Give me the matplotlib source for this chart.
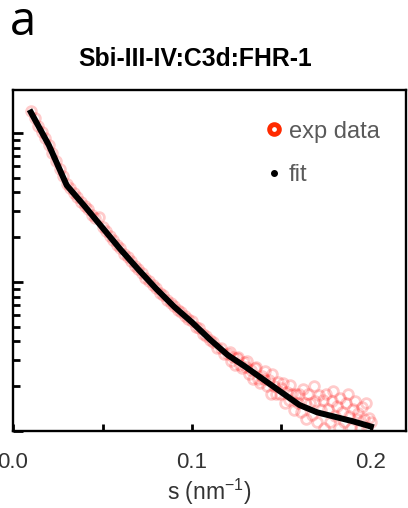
import matplotlib
matplotlib.use("Agg")
import matplotlib.pyplot as plt
import numpy as np
from matplotlib.lines import Line2D
from matplotlib.ticker import FixedLocator, NullFormatter, LogLocator

plt.rcParams["font.family"] = ["Liberation Sans", "DejaVu Sans"]
plt.rcParams["mathtext.fontset"] = "custom"
plt.rcParams["mathtext.rm"] = "Liberation Sans"
plt.rcParams["mathtext.it"] = "Liberation Sans:italic"

# experimental curve, log10 of normalised intensity
s_exp = [
    0.010, 0.012, 0.014, 0.016, 0.018, 0.020, 0.022, 0.024, 0.026, 0.028,
    0.030, 0.032, 0.034, 0.036, 0.038, 0.040, 0.042, 0.044, 0.046, 0.048,
    0.050, 0.052, 0.054, 0.056, 0.058, 0.060, 0.062, 0.064, 0.066, 0.068,
    0.070, 0.072, 0.074, 0.076, 0.078, 0.080, 0.082, 0.084, 0.086, 0.088,
    0.090, 0.092, 0.094, 0.096, 0.098, 0.100, 0.102, 0.104, 0.106, 0.108,
    0.110, 0.112, 0.114, 0.116, 0.118, 0.120,
    0.121, 0.122, 0.123, 0.124, 0.125, 0.126, 0.127, 0.128, 0.129, 0.130,
    0.131, 0.132, 0.133, 0.134, 0.135, 0.136, 0.137, 0.138, 0.139, 0.140,
    0.141, 0.142, 0.143, 0.144, 0.145, 0.146, 0.147, 0.148, 0.149, 0.150,
    0.151, 0.152, 0.153, 0.154, 0.155, 0.156, 0.157, 0.158, 0.159, 0.160,
    0.161, 0.162, 0.163, 0.164, 0.165, 0.166, 0.167, 0.168, 0.169, 0.170,
    0.171, 0.172, 0.173, 0.174, 0.175, 0.176, 0.177, 0.178, 0.179, 0.180,
    0.181, 0.182, 0.183, 0.184, 0.185, 0.186, 0.187, 0.188, 0.189, 0.190,
    0.191, 0.192, 0.193, 0.194, 0.195, 0.196, 0.197, 0.198, 0.199, 0.200,
]
logI_exp = [
    0.15, 0.10, 0.05, 0.01, -0.03, -0.08, -0.13, -0.19, -0.24, -0.29,
    -0.34, -0.37, -0.40, -0.43, -0.46, -0.49, -0.51, -0.55, -0.57, -0.56,
    -0.63, -0.66, -0.69, -0.72, -0.75, -0.77, -0.81, -0.83, -0.86, -0.89,
    -0.91, -0.94, -0.97, -0.99, -1.02, -1.04, -1.07, -1.09, -1.12, -1.14,
    -1.16, -1.19, -1.20, -1.23, -1.25, -1.26, -1.30, -1.31, -1.35, -1.36,
    -1.39, -1.40, -1.44, -1.44, -1.48, -1.48,
    -1.47, -1.53, -1.50, -1.56, -1.51, -1.50, -1.56, -1.58, -1.54, -1.57,
    -1.53, -1.62, -1.59, -1.65, -1.58, -1.57, -1.65, -1.68, -1.63, -1.65,
    -1.60, -1.70, -1.66, -1.75, -1.62, -1.70, -1.75, -1.67, -1.75, -1.71,
    -1.68, -1.81, -1.74, -1.79, -1.69, -1.75, -1.86, -1.75, -1.81, -1.75,
    -1.87, -1.72, -1.81, -1.92, -1.75, -1.81, -1.89, -1.70, -1.80, -1.94,
    -1.76, -1.86, -1.79, -1.98, -1.75, -1.85, -1.94, -1.80, -1.73, -1.90,
    -1.83, -1.98, -1.78, -1.87, -1.94, -1.81, -1.75, -1.90, -1.98, -1.85,
    -1.80, -1.92, -1.88, -1.99, -1.84, -1.92, -1.81, -1.98, -1.91, -1.94,
]

# fitted curve
s_fit = [0.010, 0.020, 0.030, 0.040, 0.050, 0.060, 0.070, 0.080, 0.090, 0.100,
         0.110, 0.120, 0.130, 0.140, 0.150, 0.160, 0.170, 0.180, 0.190, 0.200]
logI_fit = [0.14, -0.08, -0.35, -0.49, -0.635, -0.78, -0.915, -1.045, -1.165, -1.27,
            -1.385, -1.49, -1.57, -1.655, -1.74, -1.825, -1.875, -1.905, -1.935, -1.97]

x_ticks = [0.0, 0.1, 0.2]
x_ticklabels = ["0.0", "0.1", "0.2"]
x_minor = [0.05, 0.15]

title = "Sbi-III-IV:C3d:FHR-1"
red = "#ff2a00"

fig = plt.figure(figsize=(4.08, 5.08), dpi=100)
ax = fig.add_axes([0.032, 0.1516, 0.963, 0.6712])

I_exp = 10 ** np.array(logI_exp)
I_fit = 10 ** np.array(logI_fit)

ax.plot(s_exp, I_exp, "o", mfc="none", mec="#ff1414", ms=7, mew=2, alpha=0.22, zorder=2)
ax.plot(s_fit, I_fit, "-", color="black", lw=4.3, zorder=3)

ax.set_yscale("log")
ax.set_xlim(0, 0.2196)
ax.set_ylim(0.01, 1.95)

ax.xaxis.set_major_locator(FixedLocator(x_ticks))
ax.xaxis.set_minor_locator(FixedLocator(x_minor))
ax.set_xticklabels(x_ticklabels)
ax.yaxis.set_major_locator(LogLocator(base=10))
ax.yaxis.set_minor_locator(LogLocator(base=10, subs=np.arange(2, 10)))
ax.yaxis.set_major_formatter(NullFormatter())
ax.yaxis.set_minor_formatter(NullFormatter())

ax.tick_params(axis="x", which="both", direction="in", length=5, width=2,
               labelsize=16, labelcolor="#333333", pad=15, top=False)
ax.tick_params(axis="y", which="major", direction="in", length=7, width=2, right=False)
ax.tick_params(axis="y", which="minor", direction="in", length=5, width=2, right=False)

for sp in ax.spines.values():
    sp.set_linewidth(1.7)
    sp.set_color("black")

ax.set_xlabel("s (nm$^{-1}$)", fontsize=16.5, color="#333333", labelpad=3)

handles = [
    Line2D([], [], ls="none", marker="o", mfc="white", mec=red, ms=7, mew=3.5),
    Line2D([], [], ls="none", marker="o", color="black", ms=4),
]
leg = ax.legend(handles, ["exp data", "fit"], loc="upper left",
                bbox_to_anchor=(0.605, 0.945), frameon=False, fontsize=17,
                handlelength=1.0, handletextpad=0.1, labelspacing=0.9, borderpad=0)
for t in leg.get_texts():
    t.set_color("#5a5a5a")

fig.text(0.478, 0.884, title, fontsize=17.8, fontweight="bold", ha="center", va="center")
fig.text(0.025, 0.931, "a", fontsize=34, family="Open Sans", ha="left", va="baseline")

fig.savefig("out.png", dpi=100)
